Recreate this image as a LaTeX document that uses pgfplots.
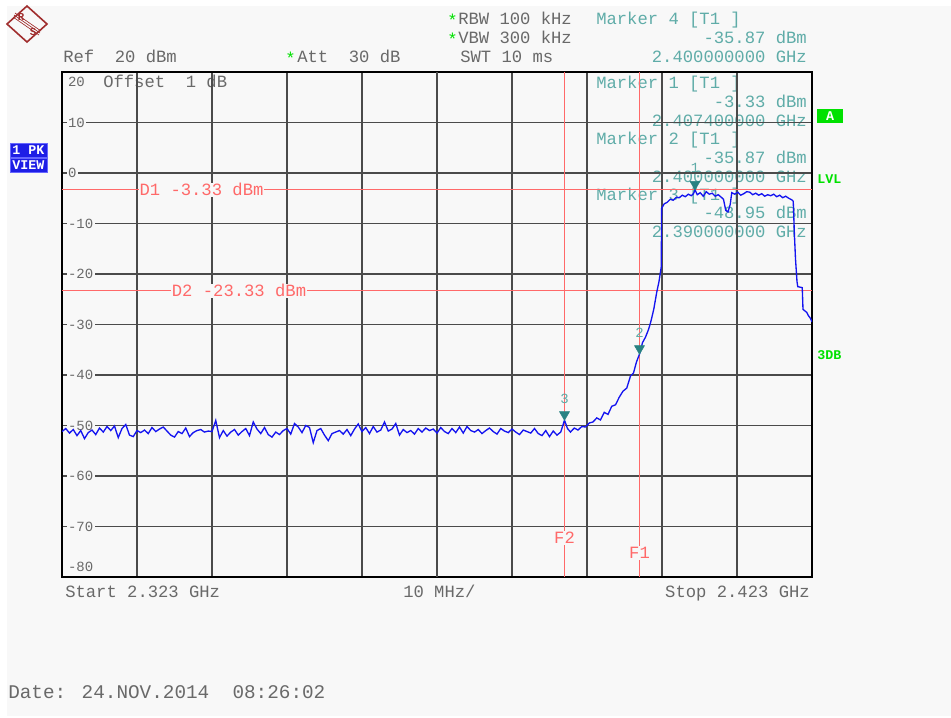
\documentclass[border=0pt]{standalone}
\usepackage{pgfplots}
\usepackage{pgfplotstable}
\pgfplotsset{compat=1.18}
\usepackage{fontspec}
\setmainfont{Liberation Mono}
\definecolor{bg}{RGB}{248,248,248}
\definecolor{tgray}{RGB}{105,105,105}
\definecolor{mteal}{RGB}{95,172,168}
\definecolor{mdark}{RGB}{40,130,130}
\definecolor{gridc}{RGB}{75,75,75}
\definecolor{lred}{RGB}{255,105,105}
\definecolor{lgreen}{RGB}{0,225,0}
\definecolor{vblue}{RGB}{30,30,230}
\definecolor{trace}{RGB}{20,20,240}
\definecolor{logo}{RGB}{160,45,45}
\newcommand\fa{\fontsize{12.9}{14}\selectfont}
\newcommand\fy{\fontsize{10.5}{12}\selectfont}
\newcommand\fd{\fontsize{14.5}{16}\selectfont}
\newcommand\fs{\fontsize{10}{11}\selectfont\bfseries}

\pgfplotstableread{
f y
2323.0 -51.2
2323.5 -50.6
2324.0 -51.5
2324.5 -50.8
2325.0 -52.0
2325.5 -51.0
2326.0 -52.6
2326.5 -51.4
2327.0 -50.9
2327.5 -51.8
2328.0 -50.5
2328.5 -51.3
2329.0 -50.2
2329.5 -51.0
2330.0 -50.1
2330.5 -52.4
2331.0 -50.6
2331.5 -49.8
2332.0 -51.9
2332.5 -52.2
2333.0 -51.0
2333.5 -51.4
2334.0 -50.9
2334.5 -51.6
2335.0 -50.4
2335.5 -51.2
2336.0 -50.7
2336.5 -50.3
2337.0 -51.1
2337.5 -51.9
2338.0 -52.3
2338.5 -51.2
2339.0 -51.6
2339.5 -50.5
2340.0 -52.2
2340.5 -51.4
2341.0 -51.0
2341.5 -50.8
2342.0 -51.3
2342.5 -51.1
2343.0 -51.2
2343.5 -49.0
2344.0 -52.4
2344.5 -51.0
2345.0 -52.1
2345.5 -51.3
2346.0 -50.8
2346.5 -51.9
2347.0 -51.2
2347.5 -50.6
2348.0 -52.0
2348.5 -49.3
2349.0 -50.7
2349.5 -51.6
2350.0 -50.4
2350.5 -51.8
2351.0 -52.3
2351.5 -51.3
2352.0 -51.8
2352.5 -51.0
2353.0 -50.6
2353.5 -51.7
2354.0 -49.6
2354.5 -50.3
2355.0 -51.4
2355.5 -50.0
2356.0 -50.4
2356.5 -53.4
2357.0 -51.0
2357.5 -50.6
2358.0 -51.9
2358.5 -53.0
2359.0 -51.6
2359.5 -51.3
2360.0 -51.0
2360.5 -51.7
2361.0 -50.8
2361.5 -52.0
2362.0 -50.7
2362.5 -49.7
2363.0 -51.2
2363.5 -50.4
2364.0 -51.6
2364.5 -50.2
2365.0 -51.3
2365.5 -50.9
2366.0 -49.3
2366.5 -51.1
2367.0 -50.7
2367.5 -49.6
2368.0 -51.9
2368.5 -50.8
2369.0 -51.4
2369.5 -51.0
2370.0 -51.7
2370.5 -50.6
2371.0 -51.3
2371.5 -50.5
2372.0 -51.0
2372.5 -50.7
2373.0 -51.5
2373.5 -50.4
2374.0 -51.2
2374.5 -51.6
2375.0 -50.6
2375.5 -51.4
2376.0 -50.3
2376.5 -51.5
2377.0 -50.2
2377.5 -51.0
2378.0 -51.3
2378.5 -50.8
2379.0 -51.6
2379.5 -51.0
2380.0 -50.5
2380.5 -51.2
2381.0 -51.7
2381.5 -50.6
2382.0 -51.1
2382.5 -51.4
2383.0 -50.7
2383.5 -51.3
2384.0 -51.8
2384.5 -50.9
2385.0 -51.2
2385.5 -51.5
2386.0 -50.6
2386.5 -51.6
2387.0 -52.0
2387.5 -51.0
2388.0 -52.2
2388.5 -51.1
2389.0 -51.9
2389.5 -51.3
2390.0 -48.95
2390.4 -50.6
2390.8 -51.3
2391.3 -50.5
2391.8 -50.9
2392.3 -50.2
2392.8 -50.3
2393.3 -49.5
2393.8 -49.3
2394.3 -48.5
2394.8 -48.9
2395.3 -47.4
2395.8 -47.8
2396.3 -46.2
2396.8 -45.9
2397.3 -44.4
2397.8 -43.2
2398.3 -42.6
2398.8 -40.2
2399.2 -39.6
2399.6 -37.4
2400.0 -35.87
2400.4 -33.6
2400.8 -32.5
2401.2 -31.0
2401.5 -29.5
2401.9 -27.0
2402.3 -23.6
2402.6 -21.5
2402.9 -18.6
2402.95 -7.0
2403.3 -6.1
2403.7 -5.8
2404.1 -5.2
2404.5 -5.4
2404.9 -4.8
2405.3 -4.9
2405.7 -4.4
2406.1 -4.7
2406.5 -4.2
2406.9 -4.5
2407.2 -4.1
2407.4 -3.33
2407.7 -4.3
2408.1 -3.9
2408.5 -4.6
2408.9 -3.7
2409.3 -4.2
2409.7 -4.0
2410.1 -4.6
2410.5 -4.3
2410.9 -4.8
2411.2 -5.2
2411.5 -7.4
2411.8 -7.7
2412.1 -6.2
2412.3 -3.9
2412.7 -4.2
2413.1 -3.8
2413.5 -4.4
2413.9 -4.1
2414.3 -3.7
2414.7 -3.8
2415.1 -4.3
2415.5 -4.0
2415.9 -4.4
2416.3 -4.1
2416.7 -4.6
2417.1 -4.3
2417.5 -4.5
2417.9 -4.2
2418.3 -4.7
2418.7 -4.4
2419.1 -4.9
2419.5 -4.6
2419.9 -5.0
2420.3 -5.3
2420.5 -5.6
2420.65 -12.0
2420.8 -17.0
2421.0 -21.5
2421.1 -22.5
2421.7 -22.7
2421.8 -27.0
2422.3 -27.6
2422.5 -28.2
2422.8 -28.8
2423.0 -29.5
}\trace

\begin{document}
\begin{tikzpicture}
\begin{scope}[x=0.75pt,y=-0.75pt,every node/.style={inner sep=0pt,anchor=base west,font=\fa,text=tgray}]
\fill[white] (0,0) rectangle (951,718);
\fill[bg] (7,6) rectangle (951,716);
% logo
\draw[logo,line width=1.2pt] (27,6) -- (47,24) -- (27,42) -- (7,24) -- cycle;
\draw[logo,line width=0.5pt] (14,15) -- (40,33) (15,13) -- (41,31) (13,17) -- (39,35);
\node[text=logo,font=\fontsize{8}{8}\selectfont\bfseries,anchor=center] at (21,17) {R};
\node[text=logo,font=\fontsize{8}{8}\selectfont\bfseries,anchor=center] at (33,32) {S};
% header
\node[text=lgreen] at (447,26) {*};
\node at (458,24) {RBW 100 kHz};
\node[text=lgreen] at (447,45) {*};
\node at (458,43) {VBW 300 kHz};
\node at (460,62) {SWT 10 ms};
\node at (63,62) {Ref~~20 dBm};
\node[text=lgreen] at (285,64) {*};
\node at (297,62) {Att~~30 dB};
\node[text=mteal] at (596,24) {Marker 4 [T1 ]};
\node[text=mteal,anchor=base east] at (807,43) {-35.87 dBm};
\node[text=mteal,anchor=base east] at (807,62) {2.400000000 GHz};
% marker blocks
\node[text=mteal] at (596,88) {Marker 1 [T1 ]};
\node[text=mteal,anchor=base east] at (807,107) {-3.33 dBm};
\node[text=mteal,anchor=base east] at (807,126) {2.407400000 GHz};
\node[text=mteal] at (596,144) {Marker 2 [T1 ]};
\node[text=mteal,anchor=base east] at (807,163) {-35.87 dBm};
\node[text=mteal,anchor=base east] at (807,182) {2.400000000 GHz};
\node[text=mteal] at (596,200) {Marker 3 [T1 ]};
\node[text=mteal,anchor=base east] at (807,218) {-48.95 dBm};
\node[text=mteal,anchor=base east] at (807,237) {2.390000000 GHz};
\node at (103,87) {Offset~~1 dB};
% bottom
\node at (65,597) {Start 2.323 GHz};
\node at (403,597) {10 MHz/};
\node[anchor=base east] at (810,597) {Stop 2.423 GHz};
\node[font=\fd] at (8,698) {Date: 24.NOV.2014~~08:26:02};
% right side
\fill[lgreen] (817,109) rectangle (843,123);
\node[text=white,font=\fs,anchor=center] at (830,116) {A};
\node[text=lgreen,font=\fs] at (817,183) {LVL};
\node[text=lgreen,font=\fs] at (817,359) {3DB};
% left side
\filldraw[fill=vblue,draw=blue!60] (10,143) rectangle (47,157);
\filldraw[fill=vblue,draw=blue!60] (10,158) rectangle (47,172);
\node[text=white,font=\fs,anchor=center] at (28.5,150) {1 PK};
\node[text=white,font=\fs,anchor=center] at (28.5,165) {VIEW};
\end{scope}
\begin{axis}[
  at={(46.5pt,-432.75pt)}, anchor=south west,
  scale only axis, width=562.5pt, height=378.75pt,
  xmin=2323, xmax=2423, ymin=-80, ymax=20,
  xtick={2323,2333,...,2423}, ytick={-80,-70,...,20},
  xticklabels={}, yticklabels={}, major tick length=0pt,
  grid=major, major grid style={gridc, line width=0.8pt},
  extra x ticks={2373}, extra x tick labels={},
  extra x tick style={grid style={black,line width=1.6pt}},
  axis line style={black, line width=1.8pt},
  axis on top=false,
]
% y labels
\foreach \v/\t in {18/20,10/10,0/0,-10/-10,-20/-20,-30/-30,-40/-40,-50/-50,-60/-60,-70/-70,-78/-80}{
  \edef\tmp{\noexpand\node[anchor=west,fill=bg,inner sep=1pt,text=tgray,font=\noexpand\fy] at (axis cs:2323.6,\v) {\t};}
  \tmp
}
\addplot[lred, line width=0.8pt] coordinates {(2323,-3.33) (2423,-3.33)}
  node[pos=0.186, fill=bg, inner sep=0.5pt, text=lred, font=\fa] {D1 -3.33 dBm};
\addplot[lred, line width=0.8pt] coordinates {(2323,-23.33) (2423,-23.33)}
  node[pos=0.236, fill=bg, inner sep=0.5pt, text=lred, font=\fa] {D2 -23.33 dBm};
\addplot[lred, line width=0.8pt] coordinates {(2390,-80) (2390,20)}
  node[pos=0.077, fill=bg, inner sep=1pt, text=lred, font=\fa] {F2};
\addplot[lred, line width=0.8pt] coordinates {(2400,-80) (2400,20)}
  node[pos=0.048, fill=bg, inner sep=1pt, text=lred, font=\fa] {F1};
\addplot[trace, line width=1pt] table[x=f,y=y] {\trace};
\addplot[only marks, mark=triangle*, mark size=4.3pt,
  mark options={yshift=4.2pt, rotate=180, fill=mdark, draw=mdark},
  nodes near coords, point meta=explicit symbolic,
  nodes near coords style={text=mteal, font=\fy, anchor=center, yshift=12pt}]
  coordinates {(2390,-48.95)[3] (2400,-35.87)[2] (2407.4,-3.33)[1]};
\end{axis}
\end{tikzpicture}
\end{document}
